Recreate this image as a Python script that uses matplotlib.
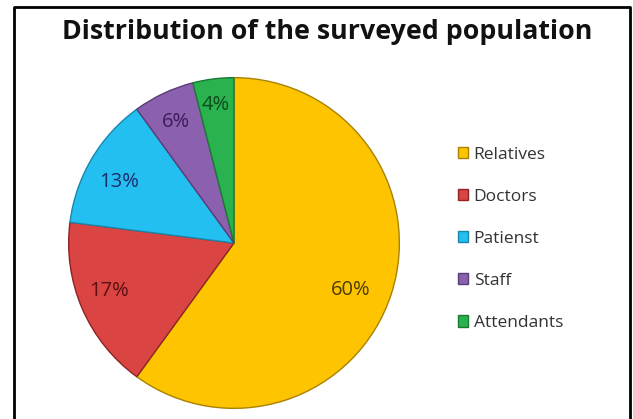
import matplotlib as mpl
mpl.use('Agg')
import matplotlib.pyplot as plt
from matplotlib.lines import Line2D
import numpy as np

labels = ['Relatives', 'Doctors', 'Patienst', 'Staff', 'Attendants']
values = [60, 17, 13, 6, 4]
colors = ['#FFC400', '#DA4442', '#22BFF0', '#8B60AE', '#2AB24E']
edges = ['#A88200', '#8E2424', '#1A86AA', '#5C3C78', '#1A7A34']
pct_colors = ['#4A3C00', '#5C1012', '#1C2C6C', '#3A1C5C', '#0E4A1C']
# label placement inside the wedges (radius fraction, angle shift in degrees)
pct_dist = [0.76, 0.81, 0.79, 0.81, 0.84]
pct_shift = [-4, -2.5, 2.6, 0.5, 0.2]

fig = plt.figure(figsize=(6.33, 4.19), dpi=100)
ax = fig.add_axes([67 / 633, 9 / 419, 334 / 633, 334 / 419])

wedges, texts = ax.pie(values, colors=colors, startangle=90, counterclock=False,
                       wedgeprops=dict(linewidth=1.0))
for w, ec in zip(wedges, edges):
    w.set_edgecolor(ec)

for w, v, c, d, s in zip(wedges, values, pct_colors, pct_dist, pct_shift):
    ang = np.deg2rad((w.theta1 + w.theta2) / 2 + s)
    ax.text(d * np.cos(ang), d * np.sin(ang), '{}%'.format(v), color=c,
            ha='center', va='center', fontsize=14.5, family='Open Sans')

ax.set_xlim(-1.01, 1.01)
ax.set_ylim(-1.01, 1.01)

fig.text(327 / 633, 0.924, 'Distribution of the surveyed population', ha='center', va='center',
         fontsize=19.3, fontweight='bold', family='Open Sans', color='#111111')

leg = fig.legend(wedges, labels, loc='upper left', bbox_to_anchor=(451 / 633, 1 - 140 / 419),
                 frameon=False, fontsize=12.5, handlelength=0.6, handleheight=0.6,
                 handletextpad=0.3, labelspacing=1.5, borderaxespad=0)
for t in leg.get_texts():
    t.set_color('#333333')
    t.set_family('Open Sans')

# outer frame (no bottom edge)
fx0, fx1, fy1 = 14 / 633, 630 / 633, 1 - 7 / 419
fig.add_artist(Line2D([fx0, fx0, fx1, fx1], [0, fy1, fy1, 0], color='black',
                      linewidth=2, transform=fig.transFigure))

plt.savefig('out.png', dpi=100)
